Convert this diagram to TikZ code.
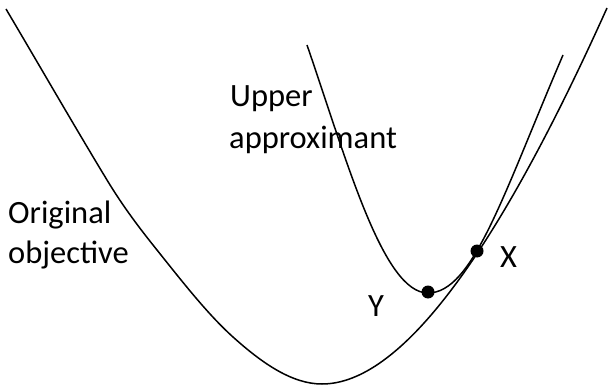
\documentclass[tikz,border=0pt]{standalone}
\usepackage{fontspec}
\setmainfont{Carlito}
\begin{document}
\begin{tikzpicture}[x=1pt,y=-1pt,
  curve/.style={line width=1.5pt, black},
  dot/.style={circle, fill=black, minimum size=13pt, inner sep=0pt},
  lbl/.style={anchor=base west, inner sep=0pt, font=\fontsize{32.5}{39}\selectfont}]
\useasboundingbox (0,0) rectangle (608,385);
% original objective
\coordinate (o0) at (6,9);
\coordinate (o1) at (107,180);
\coordinate (o2) at (157,250);
\coordinate (o3) at (233,337);
\coordinate (omin) at (322,384);
\coordinate (otop) at (607,8);
\draw[curve] (o0) .. controls (39.67,65.9) and (73.33,124.4) .. (o1)
  .. controls (123.67,207.5) and (140.33,229.2) .. (o2)
  .. controls (182.33,281.7) and (207.67,314.2) .. (o3)
  .. controls (262.67,363.7) and (292.33,384) .. (omin)
  .. controls (399.3,384) and (494.3,258.7) .. (otop);
% upper approximant
\coordinate (u0) at (307,45);
\coordinate (umin) at (428,293);
\coordinate (utop) at (563,55);
\draw[curve] (u0) .. controls (347,161) and (383,293) .. (umin)
  .. controls (473,293) and (503,194.8) .. (utop);
\node[dot] (y) at (428,292) {};
\node[dot] (x) at (477,251) {};
\node[lbl] (up) at (230,107) {Upper};
\node[lbl] (ap) at (229,149) {approximant};
\node[lbl] (or) at (8,223) {Original};
\node[lbl] (ob) at (8,263) {objective};
\node[lbl] (ly) at (368,316) {Y};
\node[lbl] (lx) at (500,267) {X};
\end{tikzpicture}
\end{document}
